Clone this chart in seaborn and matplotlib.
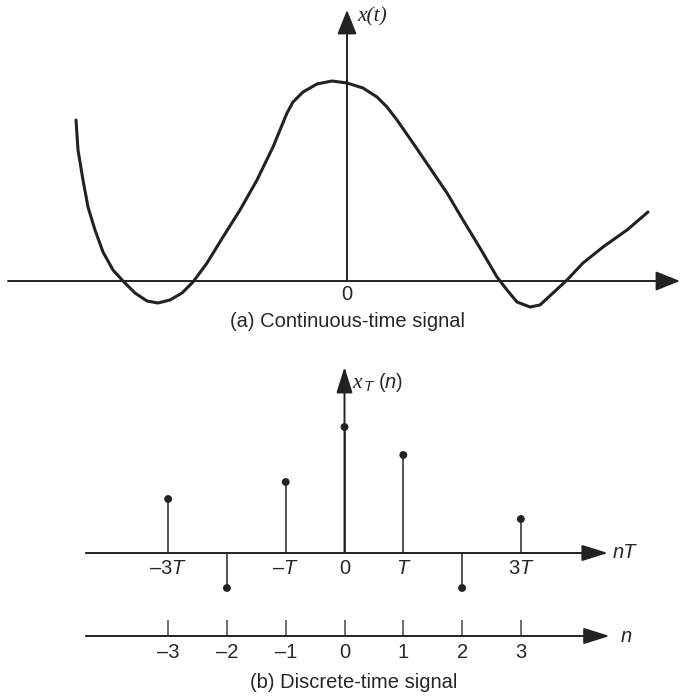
import numpy as np
import pandas as pd
import seaborn as sns
import matplotlib.pyplot as plt

# continuous-time signal x(t) (arbitrary units)
t_vals = [-27.1, -26.9, -26.4, -25.9, -25.2, -24.4, -23.4, -22.4, -21.2, -20.0,
          -18.9, -17.7, -16.5, -15.4, -14.0, -12.4, -10.7, -9.0, -7.4, -6.0,
          -5.4, -4.4, -3.0, -1.5, 0.0, 1.6, 3.0, 4.0, 5.0, 6.6,
          8.3, 10.0, 11.6, 13.3, 15.0, 16.0, 17.0, 18.3, 19.3, 20.6,
          22.0, 23.6, 25.6, 28.0, 30.1]
x_vals = [16.1, 13.1, 10.1, 7.4, 5.1, 2.9, 1.1, 0.0, -1.2, -2.0,
          -2.2, -1.9, -1.2, -0.1, 1.8, 4.4, 7.1, 10.1, 13.4, 16.8,
          17.9, 18.9, 19.7, 20.0, 19.8, 19.3, 18.4, 17.4, 16.1, 13.8,
          11.3, 8.8, 6.1, 3.3, 0.4, -0.9, -2.1, -2.6, -2.4, -1.2,
          0.1, 1.8, 3.4, 5.1, 6.9]

# discrete-time samples x_T(n)
n_vals = [-3, -2, -1, 0, 1, 2, 3]
xn_vals = [5.4, -3.5, 7.1, 12.6, 9.8, -3.5, 3.4]
nT_labels = ["\u20133$\\mathsf{T}$", "", "\u2013$\\mathsf{T}$", "0", "$\\mathsf{T}$", "", "3$\\mathsf{T}$"]
n_labels = ["\u20133", "\u20132", "\u20131", "0", "1", "2", "3"]

sns.set_theme(style="white")
plt.rcParams["font.family"] = ["Liberation Sans", "DejaVu Sans"]
plt.rcParams["mathtext.fontset"] = "custom"
plt.rcParams["mathtext.rm"] = "Liberation Sans"
plt.rcParams["mathtext.it"] = "Liberation Sans:italic"
plt.rcParams["mathtext.sf"] = "Liberation Sans:italic"

AXIS_C = "#555555"
INK = "#222222"
FS = 14.5
SERIF_IT = dict(fontfamily="Liberation Serif", fontstyle="italic")


def arrow(ax, start, end, scale=10, hl=1.3, hw=0.55):
    ax.annotate("", xy=end, xytext=start,
                arrowprops=dict(arrowstyle=f"-|>,head_length={hl},head_width={hw}",
                                mutation_scale=scale, lw=1.4, color=AXIS_C,
                                fc=INK, ec=INK, shrinkA=0, shrinkB=0))


fig = plt.figure(figsize=(6.89, 7.0), dpi=100)

# (a) continuous-time signal
ax1 = fig.add_axes([0, 1 - 320 / 700, 1, 320 / 700])
ax1.set_xlim(-34.7, 34.2)
ax1.set_ylim(-3.9, 28.1)
ax1.axis("off")
arrow(ax1, (-33.9, 0), (33.3, 0), hl=1.5, hw=0.6)
arrow(ax1, (0, 0), (0, 27.1), hl=1.5, hw=0.6)
cont = pd.DataFrame({"t": t_vals, "x": x_vals})
sns.lineplot(data=cont, x="t", y="x", sort=False, estimator=None,
             color=INK, lw=2.2, ax=ax1, zorder=3)
for line in ax1.get_lines():
    line.set_solid_joinstyle("round")
ax1.text(1.0, 26.4, "x(t)", fontsize=15.5, ha="left", va="center", **SERIF_IT)
ax1.text(0, -1.35, "0", fontsize=FS, ha="center", va="center")
ax1.text(0.1, -4.1, "(a) Continuous-time signal", fontsize=FS, ha="center", va="center")

# (b) discrete-time signal
ax2 = fig.add_axes([0, 0, 1, 370 / 700])
ax2.set_xlim(-5.86, 5.86)
ax2.set_ylim(-14.7, 22.3)
ax2.axis("off")
arrow(ax2, (-4.4, 0), (4.48, 0), hl=1.6, hw=0.5)
arrow(ax2, (0, 0), (0, 18.6), hl=1.6, hw=0.5)
arrow(ax2, (-4.4, -8.3), (4.51, -8.3), hl=1.6, hw=0.5)

disc = pd.DataFrame({"n": n_vals, "xn": xn_vals})
ax2.vlines(disc["n"], 0, disc["xn"], color=AXIS_C, lw=1.4, zorder=2)
sns.scatterplot(data=disc, x="n", y="xn", color=INK, s=32, edgecolor="none",
                ax=ax2, zorder=3, legend=False)

# x_T(n) label: serif italic x, sans italic subscript T, sans (n)
ax2.text(0.14, 17.0, "x", fontsize=15.5, ha="left", va="center", **SERIF_IT)
ax2.annotate("T", xy=(0.14, 17.0), xytext=(8, -3), textcoords="offset points",
             fontsize=11, fontstyle="italic", ha="left", va="center")
ax2.annotate("($\\mathsf{n}$)", xy=(0.14, 17.0), xytext=(18, 0), textcoords="offset points",
             fontsize=FS, ha="left", va="center")

ax2.text(4.57, 0, "nT", fontsize=FS, fontstyle="italic", ha="left", va="center")
ax2.text(4.69, -8.3, "n", fontsize=FS, fontstyle="italic", ha="left", va="center")
for n, lab in zip(n_vals, nT_labels):
    if lab:
        ax2.text(n, -1.5, lab, fontsize=FS, ha="center", va="center")
ax2.vlines(n_vals, -8.3, -6.7, color=AXIS_C, lw=1.2)
for n, lab in zip(n_vals, n_labels):
    ax2.text(n, -9.9, lab, fontsize=FS, ha="center", va="center")
ax2.text(0.16, -13.0, "(b) Discrete-time signal", fontsize=FS, ha="center", va="center")

fig.savefig("out.png", dpi=100)
